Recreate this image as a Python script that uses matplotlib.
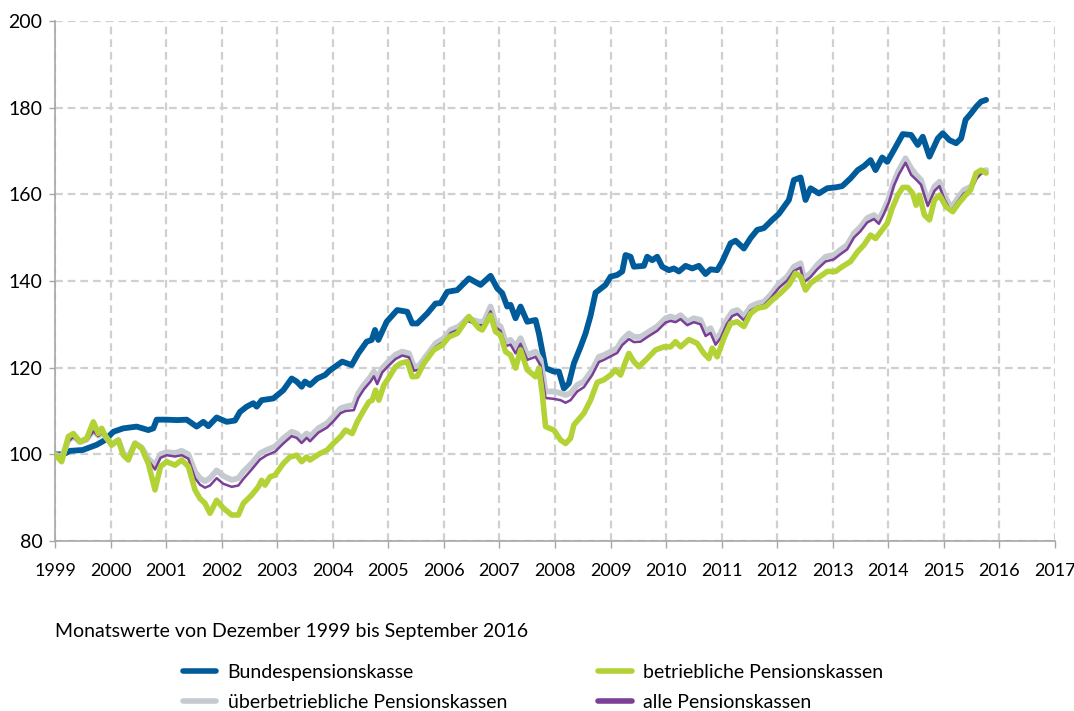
import matplotlib
matplotlib.use("Agg")
import matplotlib.pyplot as plt

plt.rcParams['font.family'] = ['Lato', 'DejaVu Sans']

# Bundespensionskasse (index, Dez 1999 = 100)
bund_x = [1999.0, 1999.15, 1999.27, 1999.5, 1999.75, 1999.9,
          2000.05, 2000.23, 2000.47, 2000.68, 2000.77, 2000.83,
          2001.0, 2001.2, 2001.37, 2001.55, 2001.67, 2001.76, 2001.91,
          2002.09, 2002.24, 2002.33, 2002.45, 2002.57, 2002.63, 2002.72, 2002.93,
          2003.11, 2003.26, 2003.35, 2003.44, 2003.5, 2003.59, 2003.72, 2003.86, 2003.95,
          2004.17, 2004.34, 2004.46, 2004.61, 2004.7, 2004.76, 2004.82, 2004.97,
          2005.16, 2005.34, 2005.43, 2005.52, 2005.7, 2005.85, 2005.94,
          2006.06, 2006.24, 2006.45, 2006.66, 2006.84, 2006.96,
          2007.05, 2007.14, 2007.2, 2007.29, 2007.38, 2007.5, 2007.65, 2007.71, 2007.83, 2007.98,
          2008.07, 2008.16, 2008.25, 2008.34, 2008.46, 2008.55, 2008.64, 2008.73, 2008.82, 2008.91,
          2009.0, 2009.12, 2009.21, 2009.27, 2009.36, 2009.42, 2009.6, 2009.66, 2009.75, 2009.84, 2009.93,
          2010.05, 2010.14, 2010.23, 2010.35, 2010.47, 2010.59, 2010.71, 2010.8, 2010.92,
          2011.01, 2011.16, 2011.25, 2011.4, 2011.52, 2011.64, 2011.76, 2011.91,
          2012.03, 2012.12, 2012.21, 2012.3, 2012.42, 2012.51, 2012.6, 2012.75, 2012.9,
          2013.05, 2013.17, 2013.32, 2013.45, 2013.56, 2013.68, 2013.77, 2013.89, 2013.98,
          2014.1, 2014.26, 2014.41, 2014.53, 2014.62, 2014.74, 2014.89, 2014.98,
          2015.1, 2015.22, 2015.31, 2015.39, 2015.49, 2015.58, 2015.67, 2015.76]
bund_y = [100, 100, 100.8, 101, 102.2, 103.3,
          105.2, 106, 106.4, 105.6, 106, 108,
          108, 107.9, 108, 106.4, 107.5, 106.5, 108.5,
          107.5, 107.8, 109.8, 111, 111.8, 111, 112.5, 112.9,
          114.8, 117.5, 116.8, 115.6, 116.8, 116, 117.5, 118.3, 119.4,
          121.4, 120.6, 123.3, 126, 126.4, 128.7, 126.4, 130.6,
          133.3, 132.9, 130.2, 130.2, 132.5, 134.8, 134.9,
          137.5, 137.9, 140.6, 139.1, 141.2, 138.3,
          137.2, 134.1, 134.5, 131.4, 134.1, 130.6, 131, 127.9, 119.9, 119.1,
          119.1, 115.2, 116.4, 121, 124.8, 127.9, 132, 137.3, 138.2, 139.1,
          141, 141.4, 142.2, 146, 145.6, 143.3, 143.5, 145.6, 144.8, 145.6, 143.3,
          142.5, 142.9, 142.2, 143.5, 142.9, 143.5, 141.6, 142.7, 142.5,
          144.5, 148.7, 149.3, 147.5, 149.9, 151.8, 152.2, 154.1,
          155.5, 157.1, 158.7, 163.3, 163.9, 158.7, 161.4, 160.2, 161.4,
          161.6, 161.9, 163.7, 165.6, 166.5, 167.9, 165.6, 168.5, 167.5,
          170.2, 173.9, 173.7, 171.4, 173.3, 168.7, 172.9, 174.1,
          172.5, 171.8, 172.9, 177.2, 178.7, 180.2, 181.4, 181.8]

# betriebliche Pensionskassen
betr_x = [1999.0, 1999.12, 1999.24, 1999.33, 1999.45, 1999.57, 1999.69, 1999.78, 1999.84, 1999.9,
          2000.02, 2000.14, 2000.23, 2000.32, 2000.44, 2000.56, 2000.68, 2000.8, 2000.9,
          2001.01, 2001.16, 2001.28, 2001.4, 2001.52, 2001.61, 2001.7, 2001.79, 2001.91,
          2002.03, 2002.18, 2002.3, 2002.39, 2002.54, 2002.66, 2002.72, 2002.78, 2002.87, 2002.96,
          2003.11, 2003.23, 2003.35, 2003.44, 2003.53, 2003.59, 2003.77, 2003.9,
          2004.01, 2004.14, 2004.23, 2004.35, 2004.44, 2004.56, 2004.65, 2004.71, 2004.77, 2004.83, 2004.92,
          2005.0, 2005.13, 2005.22, 2005.34, 2005.43, 2005.52, 2005.64, 2005.82, 2005.97,
          2006.09, 2006.24, 2006.45, 2006.63, 2006.69, 2006.84, 2006.93,
          2007.02, 2007.11, 2007.2, 2007.29, 2007.38, 2007.5, 2007.65, 2007.71, 2007.77, 2007.83, 2007.98,
          2008.1, 2008.19, 2008.28, 2008.34, 2008.52, 2008.64, 2008.76, 2008.88,
          2009.0, 2009.09, 2009.18, 2009.27, 2009.33, 2009.42, 2009.51, 2009.66, 2009.81, 2009.96,
          2010.08, 2010.17, 2010.26, 2010.41, 2010.56, 2010.68, 2010.77, 2010.83, 2010.92,
          2011.04, 2011.16, 2011.28, 2011.4, 2011.52, 2011.64, 2011.79, 2011.91,
          2012.06, 2012.21, 2012.33, 2012.42, 2012.51, 2012.6, 2012.72, 2012.9,
          2013.05, 2013.17, 2013.32, 2013.45, 2013.56, 2013.68, 2013.77, 2013.89, 2013.98,
          2014.07, 2014.17, 2014.26, 2014.35, 2014.44, 2014.5, 2014.56, 2014.65, 2014.74, 2014.83, 2014.92,
          2015.04, 2015.16, 2015.27, 2015.39, 2015.48, 2015.58, 2015.67, 2015.76]
betr_y = [100, 98.3, 104.1, 104.8, 102.9, 103.7, 107.5, 104.8, 106, 104.4,
          102.1, 103.3, 99.8, 98.7, 102.5, 101.4, 97.9, 91.8, 97.2,
          98.3, 97.5, 98.7, 97.2, 91.8, 89.8, 88.7, 86.4, 89.4,
          87.6, 86, 86, 88.7, 90.6, 92.5, 94, 92.9, 94.8, 95.2,
          97.9, 99.4, 99.8, 98.3, 99.4, 98.7, 100.2, 101,
          102.5, 104.1, 105.6, 104.8, 107.5, 110.2, 112.1, 112.5, 114.8, 112.5, 116,
          117.5, 120.2, 121, 121.4, 117.9, 118, 121, 124.1, 125.2,
          127.1, 127.9, 131.8, 129.1, 128.7, 132.1, 128.3,
          127.5, 123.7, 122.9, 119.9, 124.1, 119.5, 117.9, 119.9, 114.1, 106.4, 105.6,
          103.3, 102.5, 103.7, 106.8, 109.5, 112.5, 116.6, 117.2,
          118.3, 119.5, 118.3, 121.4, 123.3, 121.4, 120.2, 122.1, 124.1, 124.8,
          124.8, 126, 124.8, 126.5, 125.6, 123.3, 122.1, 124.5, 122.5,
          126.8, 130.2, 130.6, 129.5, 132.5, 133.7, 134.1, 135.6,
          137.2, 139.1, 141.8, 141, 137.9, 139.5, 140.6, 142.2,
          142.2, 143.3, 144.5, 146.8, 148.3, 150.6, 149.8, 151.8, 153.3,
          156.8, 159.8, 161.6, 161.6, 160.2, 157.5, 159.8, 155.2, 154.1, 158.7, 159.8,
          157.1, 156, 158, 159.8, 161, 164.9, 165.6, 164.9]

# überbetriebliche Pensionskassen und alle Pensionskassen (same dates)
ueber_x = [1999.0, 1999.12, 1999.24, 1999.33, 1999.45, 1999.57, 1999.69, 1999.78, 1999.84, 1999.9,
           2000.02, 2000.14, 2000.23, 2000.32, 2000.44, 2000.56, 2000.68, 2000.8, 2000.9,
           2001.01, 2001.16, 2001.28, 2001.4, 2001.52, 2001.61, 2001.7, 2001.79, 2001.91,
           2002.03, 2002.18, 2002.3, 2002.39, 2002.54, 2002.69, 2002.81, 2002.96,
           2003.11, 2003.26, 2003.35, 2003.44, 2003.53, 2003.59, 2003.74, 2003.9,
           2004.01, 2004.14, 2004.23, 2004.38, 2004.46, 2004.56, 2004.68, 2004.74, 2004.8, 2004.89,
           2005.0, 2005.13, 2005.25, 2005.37, 2005.46, 2005.55, 2005.67, 2005.85, 2006.0,
           2006.12, 2006.27, 2006.42, 2006.63, 2006.72, 2006.84, 2006.93,
           2007.02, 2007.11, 2007.2, 2007.29, 2007.38, 2007.5, 2007.65, 2007.74, 2007.83, 2007.98,
           2008.1, 2008.19, 2008.28, 2008.4, 2008.52, 2008.67, 2008.79, 2008.88,
           2009.0, 2009.12, 2009.21, 2009.33, 2009.42, 2009.54, 2009.69, 2009.84, 2009.99,
           2010.08, 2010.17, 2010.26, 2010.38, 2010.5, 2010.62, 2010.71, 2010.8, 2010.89, 2010.98,
           2011.09, 2011.19, 2011.28, 2011.4, 2011.52, 2011.64, 2011.76, 2011.88,
           2012.03, 2012.18, 2012.3, 2012.42, 2012.48, 2012.6, 2012.72, 2012.87,
           2013.02, 2013.14, 2013.26, 2013.38, 2013.5, 2013.62, 2013.74, 2013.83, 2013.92,
           2014.01, 2014.1, 2014.19, 2014.31, 2014.41, 2014.5, 2014.59, 2014.71, 2014.83, 2014.92,
           2015.01, 2015.13, 2015.25, 2015.36, 2015.49, 2015.58, 2015.67, 2015.76]
ueber_y = [100, 99.3, 103.2, 104.2, 102.8, 103.4, 105.5, 104.3, 105.2, 104.2,
           102.3, 103.3, 100.2, 99.3, 102.6, 101.6, 99.0, 97.5, 100.0,
           100.5, 100.3, 100.8, 100.0, 96.0, 94.5, 93.8, 94.5, 96.3,
           95.0, 94.1, 94.5, 96.0, 97.9, 100.2, 101.0, 101.8,
           103.7, 105.2, 104.8, 103.7, 104.8, 104.1, 106.0, 107.2,
           108.7, 110.6, 111.0, 111.4, 114.1, 116.0, 117.9, 119.1, 117.2, 119.9,
           121.4, 123.0, 123.7, 123.3, 120.2, 120.4, 122.5, 125.6, 126.8,
           128.7, 129.5, 131.4, 130.6, 130.6, 134.1, 130.2,
           129.5, 126.0, 126.4, 124.8, 126.8, 122.9, 123.7, 121.8, 114.5, 114.5,
           114.1, 113.7, 114.1, 116.0, 116.8, 119.5, 122.5, 122.9,
           123.7, 124.5, 126.4, 127.9, 127.1, 127.1, 128.3, 129.5, 131.4,
           131.8, 131.4, 132.1, 130.6, 131.4, 131.0, 128.3, 129.1, 126.4, 127.9,
           131.0, 132.9, 133.3, 131.8, 134.1, 134.8, 135.2, 136.8,
           139.3, 141.0, 143.3, 144.1, 140.6, 141.8, 143.7, 145.6,
           146.0, 147.2, 148.3, 151.0, 152.5, 154.5, 155.2, 154.1, 156.4,
           159.1, 162.9, 165.6, 168.3, 166.0, 164.5, 163.3, 158.3, 161.8, 162.9,
           159.8, 156.8, 159.1, 161.0, 161.8, 164.1, 165.2, 165.6]
alle_y = [100, 99.2, 103.0, 104.0, 102.7, 103.3, 105.3, 104.2, 105.0, 104.0,
          102.1, 103.1, 100.0, 99.0, 102.4, 101.4, 98.6, 96.5, 99.2,
          99.8, 99.5, 99.8, 99.0, 94.5, 93.0, 92.3, 92.8, 94.5,
          93.2, 92.5, 92.8, 94.3, 96.5, 98.8, 99.8, 100.6,
          102.5, 104.2, 103.8, 102.6, 103.8, 103.0, 105.0, 106.2,
          107.6, 109.5, 110.0, 110.2, 113.0, 115.0, 116.8, 118.0, 116.2, 118.9,
          120.4, 122.0, 122.8, 122.4, 119.3, 119.5, 121.6, 124.8, 126.0,
          128.0, 128.8, 130.8, 129.8, 129.8, 133.0, 129.3,
          128.5, 125.0, 125.3, 123.3, 125.5, 121.8, 122.5, 120.5, 113.0, 112.8,
          112.5, 111.9, 112.5, 114.5, 115.5, 118.3, 121.3, 121.8,
          122.6, 123.4, 125.2, 126.6, 125.9, 126.0, 127.3, 128.5, 130.4,
          130.8, 130.5, 131.2, 129.8, 130.5, 130.0, 127.3, 128.0, 125.3, 126.8,
          130.0, 131.9, 132.4, 130.9, 133.2, 134.0, 134.4, 136.0,
          138.4, 140.1, 142.3, 143.1, 139.7, 140.9, 142.7, 144.5,
          145.0, 146.2, 147.3, 150.0, 151.5, 153.5, 154.3, 153.2, 155.5,
          158.2, 162.0, 164.6, 167.3, 164.5, 163.4, 162.2, 157.3, 160.8, 161.9,
          158.8, 156.0, 158.3, 160.2, 161.0, 163.5, 164.8, 165.2]

years = list(range(1999, 2018))
y_ticks = [80, 100, 120, 140, 160, 180, 200]

fig = plt.figure(figsize=(10.74, 7.11), dpi=100)
ax = fig.add_axes([55/1074, 1 - 541/711, 1000/1074, 520/711])

# draw order: blue, grey, purple, green on top
ax.plot(bund_x, bund_y, color='#005b9a', lw=4.2, solid_joinstyle='round',
        solid_capstyle='round', label='Bundespensionskasse', zorder=3)
ax.plot(ueber_x, ueber_y, color='#c5cad0', lw=4.2, solid_joinstyle='round',
        solid_capstyle='round', label='überbetriebliche Pensionskassen', zorder=4)
ax.plot(ueber_x, alle_y, color='#7b3f98', lw=1.8, solid_joinstyle='round',
        solid_capstyle='round', label='alle Pensionskassen', zorder=5)
ax.plot(betr_x, betr_y, color='#b2d235', lw=4.0, solid_joinstyle='round',
        solid_capstyle='round', label='betriebliche Pensionskassen', zorder=6)

ax.set_xlim(1999, 2017)
ax.set_ylim(80, 200)
ax.set_xticks(years)
ax.set_yticks(y_ticks)
ax.grid(True, color='#d0d0d0', lw=1.6, linestyle=(0, (3.5, 2.2)), zorder=0)
ax.set_axisbelow(True)

for s in ['top', 'right']:
    ax.spines[s].set_visible(False)
for s in ['left', 'bottom']:
    ax.spines[s].set_color('#a6a6a6')
    ax.spines[s].set_linewidth(1.2)

ax.tick_params(axis='x', length=5, width=1, color='#a6a6a6', pad=11, labelsize=13)
ax.tick_params(axis='y', length=4, width=1, color='#a6a6a6', pad=5, labelsize=14)

fig.text(55/1074, 1 - 632/711, 'Monatswerte von Dezember 1999 bis September 2016',
         fontsize=14, va='center', ha='left')

h, l = ax.get_legend_handles_labels()
# Bund, ueber | betr, alle
order = [0, 1, 3, 2]
leg = fig.legend([h[i] for i in order], [l[i] for i in order], ncol=2, frameon=False,
                 loc='upper left', bbox_to_anchor=(183/1074, 1 - 664/711),
                 fontsize=14, handlelength=1.7, handletextpad=0.6, columnspacing=4.7,
                 labelspacing=0.65, borderpad=0, borderaxespad=0)
for line in leg.get_lines():
    line.set_linewidth(4.0)

fig.savefig('out.png', dpi=100)
